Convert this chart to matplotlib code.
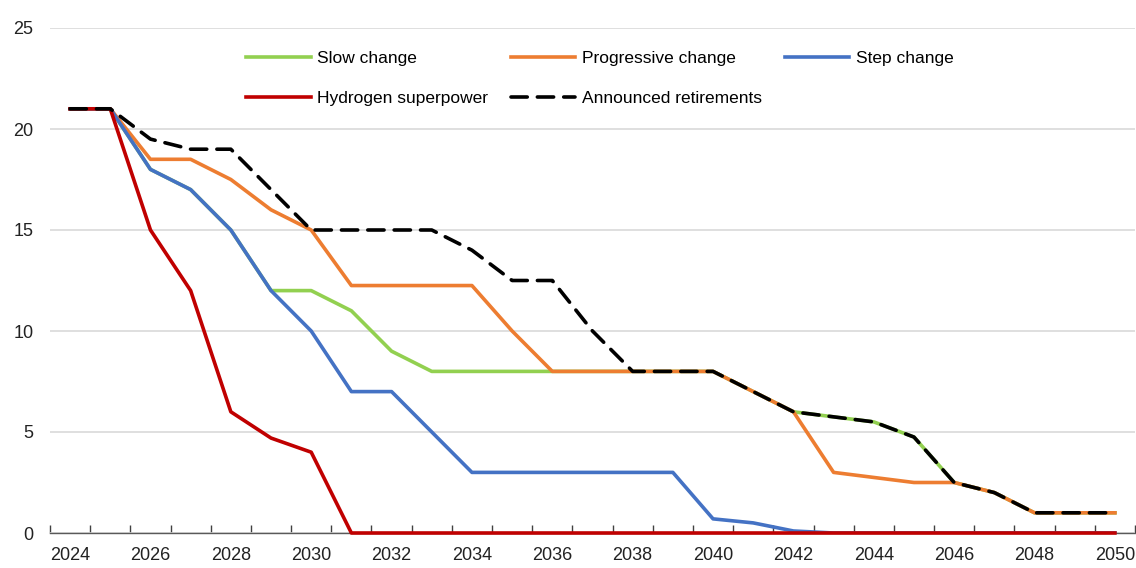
import matplotlib.pyplot as plt
from matplotlib import font_manager

years = list(range(2024, 2051))

slow_change = [21, 21, 18, 17, 15, 12, 12, 11, 9, 8, 8, 8, 8, 8, 8, 8, 8, 7, 6,
               5.75, 5.5, 4.75, 2.5, 2, 1, 1, 1]
progressive_change = [21, 21, 18.5, 18.5, 17.5, 16, 15, 12.25, 12.25, 12.25, 12.25, 10, 8,
                      8, 8, 8, 8, 7, 6, 3, 2.75, 2.5, 2.5, 2, 1, 1, 1]
step_change = [21, 21, 18, 17, 15, 12, 10, 7, 7, 5, 3, 3, 3, 3, 3, 3, 0.7, 0.5, 0.1,
               0, 0, 0, 0, 0, 0, 0, 0]
hydrogen_superpower = [21, 21, 15, 12, 6, 4.7, 4, 0, 0, 0, 0, 0, 0, 0, 0, 0, 0, 0, 0,
                       0, 0, 0, 0, 0, 0, 0, 0]
announced_retirements = [21, 21, 19.5, 19, 19, 17, 15, 15, 15, 15, 14, 12.5, 12.5, 10, 8,
                         8, 8, 7, 6, 5.75, 5.5, 4.75, 2.5, 2, 1, 1, 1]

names = [f.name for f in font_manager.fontManager.ttflist]
if 'Liberation Sans Narrow' in names:
    plt.rcParams['font.family'] = ['Liberation Sans Narrow', 'DejaVu Sans']
else:
    plt.rcParams['font.family'] = ['Liberation Sans', 'DejaVu Sans']

fig = plt.figure(figsize=(11.36, 5.68), dpi=100)
ax = fig.add_axes([50 / 1136, 1 - 533 / 568, 1085 / 1136, 505 / 568])

lw = 2.6
l_slow, = ax.plot(years, slow_change, color='#92D050', lw=lw, label='Slow change', zorder=3)
l_prog, = ax.plot(years, progressive_change, color='#ED7D31', lw=lw,
                  label='Progressive change', zorder=4)
l_step, = ax.plot(years, step_change, color='#4472C4', lw=lw, label='Step change', zorder=5)
l_hyd, = ax.plot(years, hydrogen_superpower, color='#C00000', lw=lw,
                 label='Hydrogen superpower', zorder=6, clip_on=False)
l_ann, = ax.plot(years, announced_retirements, color='black', lw=lw, ls=(0, (4.5, 2.8)),
                 dash_capstyle='round', label='Announced retirements', zorder=7)

ax.set_xlim(2023.5, 2050.5)
ax.set_ylim(0, 25)
ax.set_yticks(range(0, 26, 5))
ax.set_xticks(range(2024, 2051, 2))
ax.set_xticks([y + 0.5 for y in range(2023, 2051)], minor=True)
ax.tick_params(axis='x', which='major', length=0, labelsize=13, pad=10, colors='#222222')
ax.tick_params(axis='x', which='minor', length=6, direction='in', color='#404040', width=1)
ax.tick_params(axis='y', length=0, labelsize=13, pad=12, colors='#222222')

ax.grid(axis='y', color='#d9d9d9', lw=1.2, zorder=0)
ax.set_axisbelow(True)
for side in ['left', 'right', 'top']:
    ax.spines[side].set_visible(False)
ax.spines['bottom'].set_color('#595959')
ax.spines['bottom'].set_linewidth(1)

# column-major fill, so order gives rows: slow/prog/step, then hydrogen/announced
handles = [l_slow, l_hyd, l_prog, l_ann, l_step]
ax.legend(handles=handles, labels=[h.get_label() for h in handles],
          loc='upper left', bbox_to_anchor=(0.1665, 0.985), ncol=3, frameon=False,
          fontsize=12.5, handlelength=3.7, handletextpad=0.4, columnspacing=1.3,
          labelspacing=1.4)

fig.savefig('out.png', dpi=100)
